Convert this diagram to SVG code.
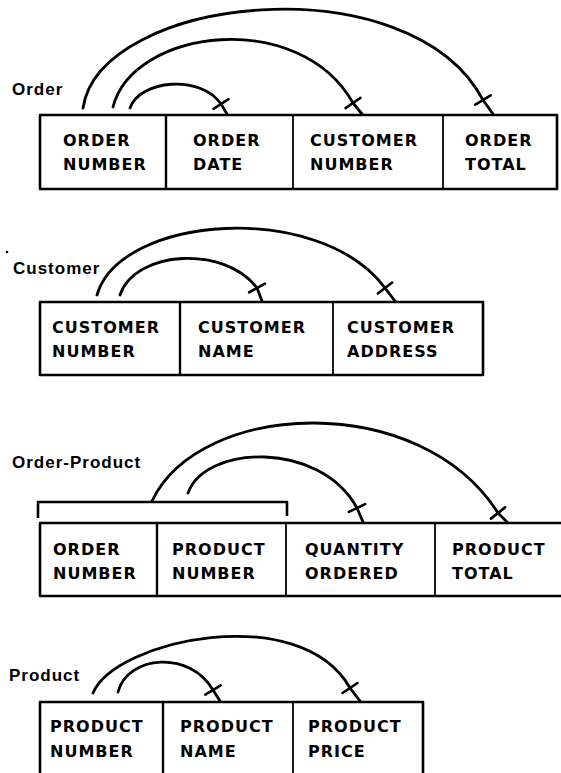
<svg xmlns="http://www.w3.org/2000/svg" width="561" height="773" viewBox="0 0 561 773">
<style>
.box{fill:none;stroke:#000;stroke-width:2.6;stroke-linejoin:round}
.div{stroke:#000;stroke-width:2.4;fill:none}
.thin{stroke:#000;stroke-width:1.8;fill:none}
.cell{font-family:"DejaVu Sans",sans-serif;font-weight:bold;font-size:16px;letter-spacing:1px;fill:#000}
.title{font-family:"Liberation Sans",Arial,sans-serif;font-weight:bold;font-size:17px;letter-spacing:1px;fill:#000}
.arc{fill:none;stroke:#000;stroke-width:2.8;stroke-linecap:round;stroke-linejoin:round;marker-mid:url(#tick)}
</style>
<defs>
<marker id="tick" markerUnits="userSpaceOnUse" orient="auto" overflow="visible" markerWidth="1" markerHeight="1" refX="0" refY="0">
<path d="M0,-9 L0,9" stroke="#000" stroke-width="2.6" stroke-linecap="round" fill="none"/>
</marker>
</defs>
<rect width="561" height="773" fill="#fff"/>

<g id="order">
<text class="title" x="12" y="95">Order</text>
<rect class="box" x="40" y="115" width="517" height="74"/>
<line class="div" x1="166" y1="115" x2="166" y2="189"/>
<line class="thin" x1="293" y1="115" x2="293" y2="189"/>
<line class="thin" x1="443" y1="115" x2="443" y2="189"/>
<g id="order-number"><text class="cell" x="63" y="146">ORDER<tspan x="63" dy="24">NUMBER</tspan></text></g>
<g id="order-date"><text class="cell" x="193" y="146">ORDER<tspan x="193" dy="24">DATE</tspan></text></g>
<g id="order-customer-number"><text class="cell" x="310" y="146">CUSTOMER<tspan x="310" dy="24">NUMBER</tspan></text></g>
<g id="order-total"><text class="cell" x="465" y="146">ORDER<tspan x="465" dy="24">TOTAL</tspan></text></g>
</g>

<g id="customer">
<circle cx="7" cy="252" r="1.3" fill="#000"/>
<text class="title" x="13" y="274">Customer</text>
<rect class="box" x="40" y="302" width="443" height="73"/>
<line class="div" x1="180" y1="302" x2="180" y2="375"/>
<line class="thin" x1="333" y1="302" x2="333" y2="375"/>
<g id="customer-number"><text class="cell" x="52" y="333">CUSTOMER<tspan x="52" dy="24">NUMBER</tspan></text></g>
<g id="customer-name"><text class="cell" x="198" y="333">CUSTOMER<tspan x="198" dy="24">NAME</tspan></text></g>
<g id="customer-address"><text class="cell" x="347" y="333">CUSTOMER<tspan x="347" dy="24">ADDRESS</tspan></text></g>
</g>

<g id="order-product">
<text class="title" x="12" y="468">Order-Product</text>
<path class="box" d="M38,518 V502 H287 V516"/>
<path class="box" d="M565,523 H40 V596 H565"/>
<line class="div" x1="157" y1="523" x2="157" y2="596"/>
<line class="thin" x1="286" y1="523" x2="286" y2="596"/>
<line class="thin" x1="435" y1="523" x2="435" y2="596"/>
<g id="op-order-number"><text class="cell" x="53" y="555">ORDER<tspan x="53" dy="24">NUMBER</tspan></text></g>
<g id="op-product-number"><text class="cell" x="172" y="555">PRODUCT<tspan x="172" dy="24">NUMBER</tspan></text></g>
<g id="op-quantity-ordered"><text class="cell" x="305" y="555">QUANTITY<tspan x="305" dy="24">ORDERED</tspan></text></g>
<g id="op-product-total"><text class="cell" x="452" y="555">PRODUCT<tspan x="452" dy="24">TOTAL</tspan></text></g>
</g>

<g id="product">
<text class="title" x="9" y="681">Product</text>
<path class="box" d="M40,780 V702 H423 V780"/>
<line class="div" x1="163" y1="702" x2="163" y2="780"/>
<line class="thin" x1="293" y1="702" x2="293" y2="780"/>
<g id="product-number"><text class="cell" x="50" y="732">PRODUCT<tspan x="50" dy="25">NUMBER</tspan></text></g>
<g id="product-name"><text class="cell" x="180" y="732">PRODUCT<tspan x="180" dy="25">NAME</tspan></text></g>
<g id="product-price"><text class="cell" x="308" y="732">PRODUCT<tspan x="308" dy="25">PRICE</tspan></text></g>
</g>

<g id="connectors">
<path class="arc" d="M130,108 C140,80 200,74 221,104 L227,114"/>
<path class="arc" d="M113,107 C133,28 300,8 353,103 L362,114"/>
<path class="arc" d="M83,108 C100,-5 410,-38 483,100 L493,114"/>
<path class="arc" d="M120,295 C135,250 225,245 257,288 L262,301"/>
<path class="arc" d="M97,295 C120,215 320,200 385,288 L395,301"/>
<path class="arc" d="M188,493 C205,445 320,440 357,508 L363,522"/>
<path class="arc" d="M152,501 C200,400 420,390 498,513 L507,522"/>
<path class="arc" d="M118,692 C128,655 190,650 213,690 L220,701"/>
<path class="arc" d="M93,693 C115,640 300,600 350,688 L360,701"/>
</g>
</svg>
